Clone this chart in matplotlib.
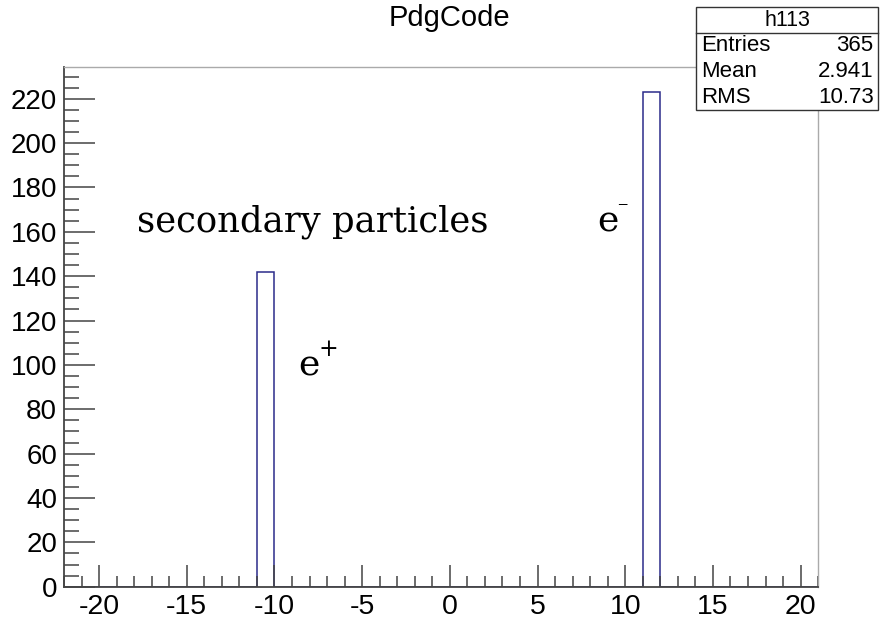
import numpy as np
import matplotlib
matplotlib.use("Agg")
import matplotlib.pyplot as plt
from matplotlib.ticker import MultipleLocator

# Histogram contents: bin edges and counts (PdgCode, 1-wide bins)
bin_lefts = [-11, 11]
counts = [142, 223]
x_range = (-22, 21)

# Statistics box
hist_name = "h113"
stat_names = ["Entries", "Mean", "RMS"]
stat_values = ["365", "2.941", "10.73"]

plt.rcParams['font.family'] = ['Liberation Sans', 'DejaVu Sans']
plt.rcParams['axes.unicode_minus'] = False

fig = plt.figure(figsize=(8.8, 6.19), dpi=100)
ax = fig.add_axes([0.0727, 0.0522, 0.857, 0.839])

edges = np.arange(x_range[0], x_range[1] + 1)
values = np.zeros(len(edges) - 1)
for left, c in zip(bin_lefts, counts):
    values[left - x_range[0]] = c
ax.stairs(values, edges, color='#2b2b8a', linewidth=1.1)

ax.set_xlim(*x_range)
ax.set_ylim(0, max(counts) * 1.05)

ax.xaxis.set_major_locator(MultipleLocator(5))
ax.xaxis.set_minor_locator(MultipleLocator(1))
ax.yaxis.set_major_locator(MultipleLocator(20))
ax.yaxis.set_minor_locator(MultipleLocator(5))
ax.tick_params(axis='x', which='major', direction='in', length=16, width=1.1,
               labelsize=20.5, pad=5, color='#444444')
ax.tick_params(axis='x', which='minor', direction='in', length=8, width=1.1,
               color='#444444')
ax.tick_params(axis='y', which='major', direction='in', length=22, width=1.1,
               labelsize=20, pad=5, color='#444444')
ax.tick_params(axis='y', which='minor', direction='in', length=11, width=1.1,
               color='#444444')
ax.tick_params(top=False, right=False, which='both')

for side in ['left', 'bottom']:
    ax.spines[side].set_color('#444444')
    ax.spines[side].set_linewidth(1.3)
for side in ['top', 'right']:
    ax.spines[side].set_color('#aaaaaa')
    ax.spines[side].set_linewidth(1.0)

fig.text(449 / 880, 1 - 18 / 619, "PdgCode", ha='center', va='center', fontsize=21)

# Annotations
serif = ['DejaVu Serif']
ax.text(-17.86, 160, "secondary particles", fontsize=25.5, family=serif,
        ha='left', va='baseline')
ax.text(-8.67, 95, "e", fontsize=26, family=serif, ha='left', va='baseline')
ax.text(-7.5, 104, "+", fontsize=17, family=serif, ha='left', va='baseline')
ax.text(8.39, 160, "e", fontsize=26, family=serif, ha='left', va='baseline')
ax.text(9.55, 170, "\u2013", fontsize=15, family=serif, ha='left', va='baseline')

# Stats box
bx0, bx1 = 696 / 880, 878 / 880
by_top, by_sep, by_bot = 1 - 7 / 619, 1 - 33 / 619, 1 - 110 / 619
fig.patches.append(plt.Rectangle((bx0, by_bot), bx1 - bx0, by_top - by_bot,
                                 transform=fig.transFigure, facecolor='white',
                                 edgecolor='#333333', linewidth=1.0, zorder=5))
fig.lines.append(plt.Line2D([bx0, bx1], [by_sep, by_sep], transform=fig.transFigure,
                            color='#333333', linewidth=1.0, zorder=6))
fig.text((bx0 + bx1) / 2, (by_top + by_sep) / 2, hist_name, ha='center',
         va='center', fontsize=15.5, zorder=7)
row_h = (by_sep - by_bot) / 3
for i, (n, v) in enumerate(zip(stat_names, stat_values)):
    yy = by_sep - row_h * (i + 0.5)
    fig.text(bx0 + 0.006, yy, n, ha='left', va='center', fontsize=16, zorder=7)
    fig.text(bx1 - 0.005, yy, v, ha='right', va='center', fontsize=16, zorder=7)

fig.savefig("out.png", dpi=100)
